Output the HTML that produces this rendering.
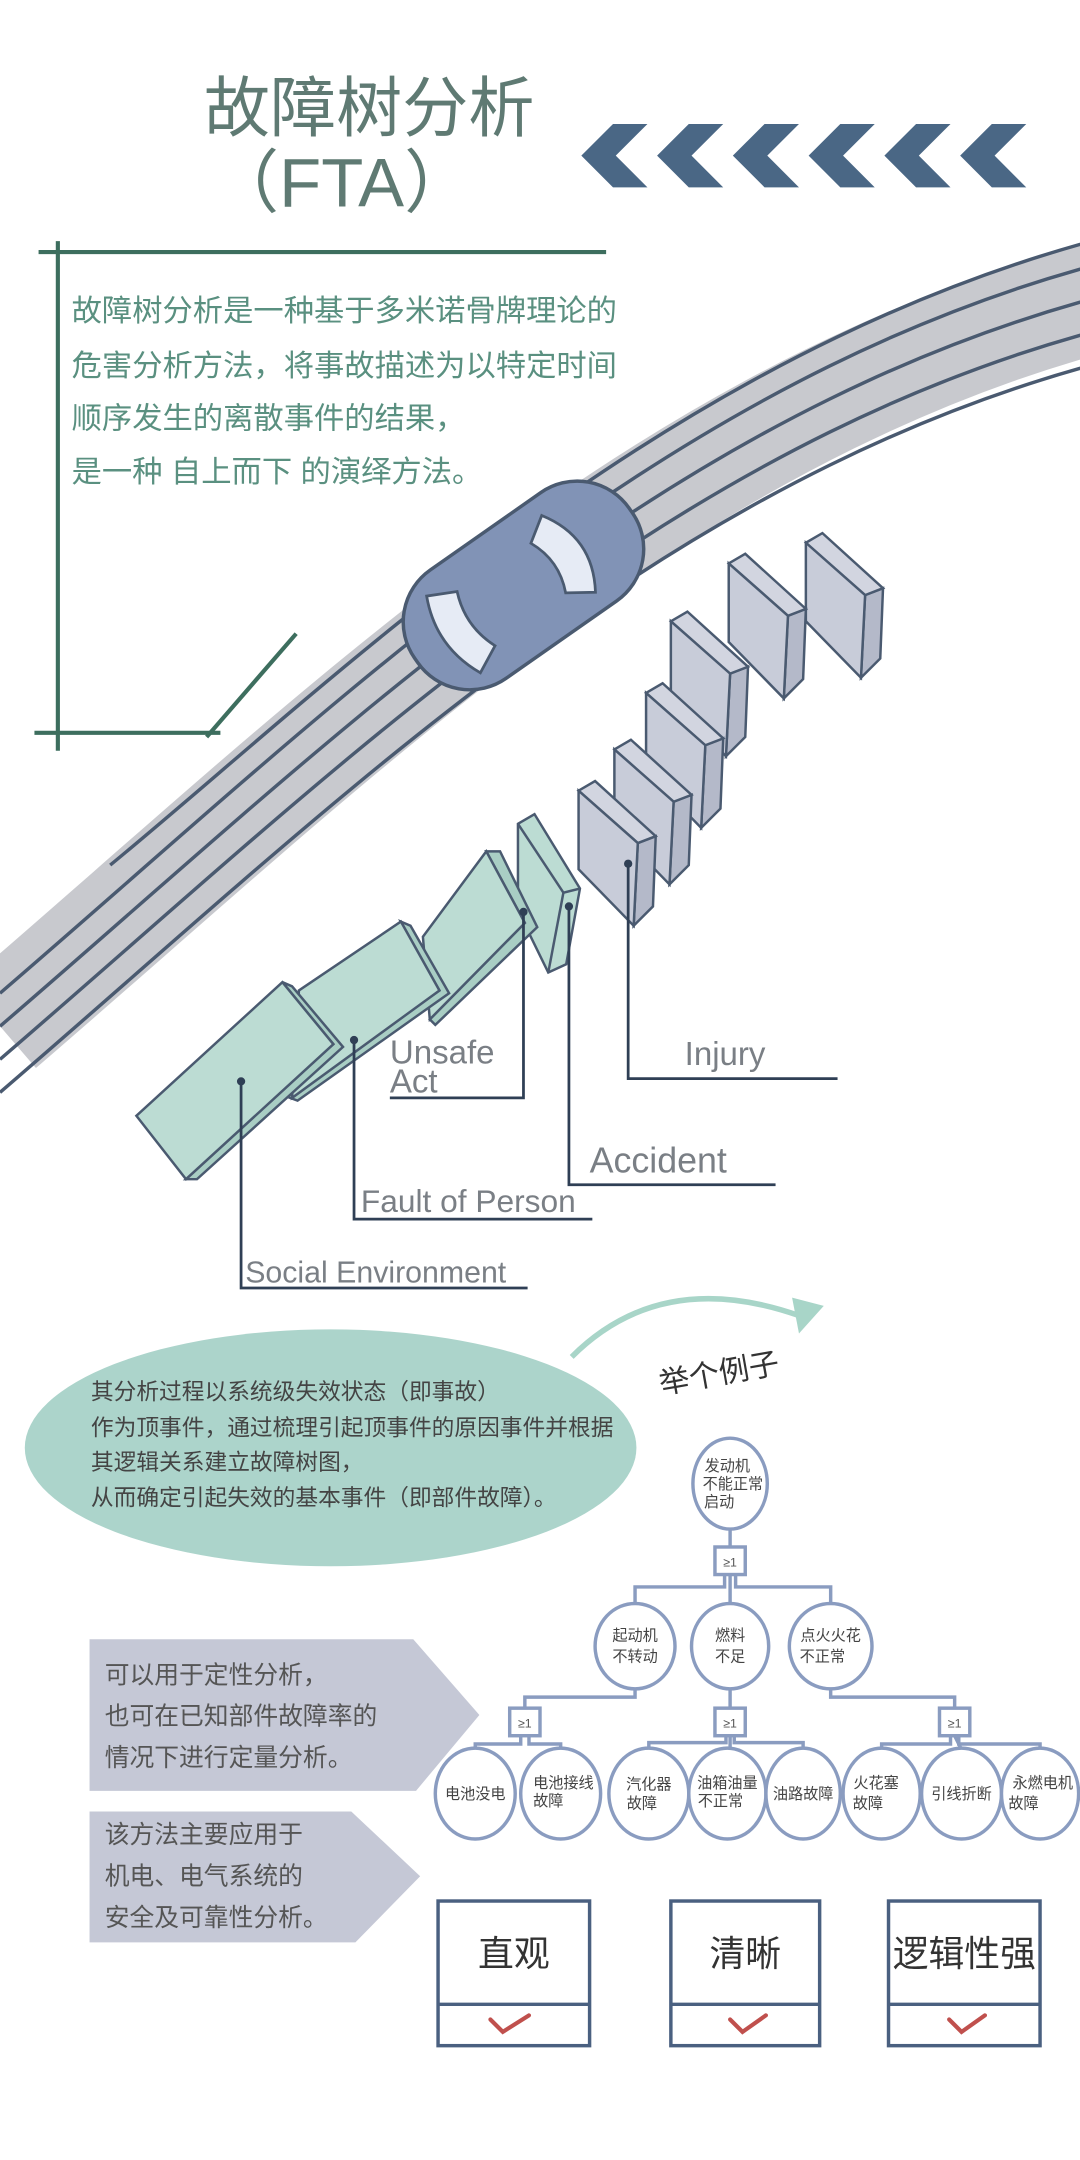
<!DOCTYPE html>
<html><head><meta charset="utf-8"><style>
html,body{margin:0;padding:0;background:#fff;}
svg{display:block;}
text{font-family:"Liberation Sans","Noto Sans CJK SC",sans-serif;}
</style></head><body>
<svg width="1080" height="2160" viewBox="0 0 784 1568" xmlns="http://www.w3.org/2000/svg">
<rect width="784" height="1568" fill="#fff"/>
<!-- title -->
<text x="268" y="95" font-size="48" fill="#5f7a73" text-anchor="middle">故障树分析</text>
<text x="248" y="150" font-size="50" fill="#5f7a73" text-anchor="middle">（FTA）</text>
<!-- chevrons -->
<g fill="#4a6785">
<polygon points="445,90 470,90 447,113 470,136 445,136 422,113"/>
<polygon points="500,90 525,90 502,113 525,136 500,136 477,113"/>
<polygon points="555,90 580,90 557,113 580,136 555,136 532,113"/>
<polygon points="610,90 635,90 612,113 635,136 610,136 587,113"/>
<polygon points="665,90 690,90 667,113 690,136 665,136 642,113"/>
<polygon points="720,90 745,90 722,113 745,136 720,136 697,113"/>
</g>
<!-- road -->
<g fill="none">
<path d="M0,745 C250,530 480,300 800,215" stroke="#c8c9ce" stroke-width="80"/>
<path d="M80,620 C250,480 480,250 800,165" stroke="#4a5a70" stroke-width="2.5" transform="translate(0,8)"/>
<path d="M0,745 C250,530 480,300 800,215" stroke="#4a5a70" stroke-width="2.5" transform="translate(0,-24)"/>
<path d="M0,745 C250,530 480,300 800,215" stroke="#4a5a70" stroke-width="2.5"/>
<path d="M0,745 C250,530 480,300 800,215" stroke="#4a5a70" stroke-width="2.5" transform="translate(0,24)"/>
<path d="M0,745 C250,530 480,300 800,215" stroke="#4a5a70" stroke-width="2.5" transform="translate(0,48)"/>
</g>
<!-- green frame -->
<g stroke="#3d6e5e" stroke-width="3" fill="none">
<line x1="28" y1="183" x2="440" y2="183"/>
<line x1="42" y1="175" x2="42" y2="545"/>
<line x1="25" y1="532" x2="160" y2="532"/>
<line x1="150" y1="535" x2="215" y2="460"/>
</g>
<g font-size="22" fill="#5a9080">
<text x="52" y="233">故障树分析是一种基于多米诺骨牌理论的</text>
<text x="52" y="273">危害分析方法，将事故描述为以特定时间</text>
<text x="52" y="311">顺序发生的离散事件的结果，</text>
<text x="52" y="350">是一种 自上而下 的演绎方法。</text>
</g>
<!-- car -->
<g transform="translate(380,425) rotate(-35)">
<rect x="-95" y="-48" width="190" height="96" rx="46" fill="#8193b6" stroke="#4a5a70" stroke-width="2.5"/>
<path d="M-62,-34 Q-78,0 -62,34 L-42,24 Q-52,0 -42,-24Z" fill="#e6ebf5" stroke="#4a5a70" stroke-width="2"/>
<path d="M40,-34 Q62,0 40,34 L22,22 Q32,0 22,-22Z" fill="#e6ebf5" stroke="#4a5a70" stroke-width="2"/>
</g>
<!-- grey dominoes -->
<defs>
<g id="gd" stroke="#4a5a70" stroke-width="1.8">
<polygon points="463,612 476,607 474,658 460,672" fill="#b4b9c9"/>
<polygon points="420,574 432,567 476,607 463,612" fill="#d2d5e0"/>
<polygon points="420,574 463,612 460,672 420,631" fill="#c8ccd9"/>
</g>
</defs>
<use href="#gd" transform="translate(165,-180)"/>
<use href="#gd" transform="translate(109,-165)"/>
<use href="#gd" transform="translate(67,-123)"/>
<use href="#gd" transform="translate(49,-71)"/>
<use href="#gd" transform="translate(26,-30)"/>
<use href="#gd"/>
<!-- green dominoes -->
<g stroke="#4a5a70" stroke-width="1.8" fill="#bcdcd3">
<polygon points="376,598 388,591 421,645 411,700 398,706 376,661"/>
<polyline points="376,598 409,648 421,645" fill="none"/>
<line x1="409" y1="648" x2="398" y2="706"/>
<polygon points="353,618 363,618 390,673 316,744 312,740 381,670" fill="#a9cec4"/>
<polygon points="307,680 353,618 381,670 312,740"/>
<polygon points="291,669 298,672 326,721 216,799 208,796 319,719" fill="#a9cec4"/>
<polygon points="217,719 291,669 319,719 212,797"/>
<polygon points="205,713 212,716 249,760 143,856 135,856 242,758" fill="#a9cec4"/>
<polygon points="99,810 205,713 242,758 135,856"/>
</g>
<!-- leader lines -->
<g stroke="#2f3f55" stroke-width="2" fill="none">
<polyline points="175,785 175,935 383,935"/>
<polyline points="257,755 257,885 430,885"/>
<polyline points="380,662 380,797 283,797"/>
<polyline points="413,658 413,860 563,860"/>
<polyline points="456,627 456,783 608,783"/>
</g>
<g fill="#2f3f55"><circle cx="175" cy="785" r="3"/><circle cx="257" cy="755" r="3"/><circle cx="380" cy="662" r="3"/><circle cx="413" cy="658" r="3"/><circle cx="456" cy="627" r="3"/></g>
<g font-size="24" fill="#7a7f85">
<text x="283" y="772">Unsafe</text><text x="283" y="793">Act</text>
<text x="497" y="773">Injury</text>
<text x="428" y="851" font-size="26">Accident</text>
<text x="262" y="880" font-size="23">Fault of Person</text>
<text x="178" y="931" font-size="22">Social Environment</text>
</g>
<!-- arc arrow -->
<path d="M415,985 Q480,920 580,955" stroke="#a8d5c8" stroke-width="4" fill="none"/>
<polygon points="575,942 598,948 580,968" fill="#a8d5c8"/>
<text x="480" y="1012" font-size="22" fill="#333" transform="rotate(-10 480 1012)">举个例子</text>
<!-- bubble -->
<ellipse cx="240" cy="1051" rx="222" ry="86" fill="#acd4cb"/>
<g font-size="16.5" fill="#444">
<text x="66" y="1016">其分析过程以系统级失效状态（即事故）</text>
<text x="66" y="1042">作为顶事件，通过梳理引起顶事件的原因事件并根据</text>
<text x="66" y="1067">其逻辑关系建立故障树图，</text>
<text x="66" y="1093">从而确定引起失效的基本事件（即部件故障）。</text>
</g>
<!-- pentagons -->
<polygon points="65,1190 300,1190 348,1245 302,1300 65,1300" fill="#c5c8d6"/>
<polygon points="65,1315 255,1315 305,1362 258,1410 65,1410" fill="#c5c8d6"/>
<g font-size="18" fill="#555">
<text x="76" y="1222">可以用于定性分析，</text>
<text x="76" y="1252">也可在已知部件故障率的</text>
<text x="76" y="1282">情况下进行定量分析。</text>
<text x="76" y="1338">该方法主要应用于</text>
<text x="76" y="1368">机电、电气系统的</text>
<text x="76" y="1398">安全及可靠性分析。</text>
</g>
<!-- tree connectors -->
<g stroke="#8a9cc0" stroke-width="2.5" fill="none">
<line x1="530" y1="1110" x2="530" y2="1123"/>
<polyline points="526,1143 526,1152 461,1152 461,1165"/>
<line x1="530" y1="1143" x2="530" y2="1165"/>
<polyline points="534,1143 534,1152 603,1152 603,1165"/>
<polyline points="461,1225 461,1232 381,1232 381,1240"/>
<line x1="530" y1="1225" x2="530" y2="1240"/>
<polyline points="603,1225 603,1232 693,1232 693,1240"/>
<polyline points="378,1260 378,1266 345,1266 345,1270"/>
<polyline points="384,1260 384,1266 407,1266 407,1270"/>
<polyline points="527,1260 527,1265 471,1265 471,1270"/>
<line x1="530" y1="1260" x2="530" y2="1270"/>
<polyline points="533,1260 533,1265 583,1265 583,1270"/>
<polyline points="690,1260 690,1266 640,1266 640,1270"/>
<line x1="693" y1="1260" x2="698" y2="1270"/>
<polyline points="696,1260 696,1266 755,1266 755,1270"/>
</g>
<g stroke="#8a9cc0" stroke-width="2.5" fill="#fff">
<ellipse cx="530" cy="1077" rx="27" ry="33"/>
<ellipse cx="461" cy="1195" rx="29" ry="31"/>
<ellipse cx="530" cy="1195" rx="28" ry="31"/>
<ellipse cx="603" cy="1195" rx="30" ry="31"/>
<ellipse cx="345" cy="1302" rx="29" ry="33"/>
<ellipse cx="407" cy="1302" rx="29" ry="33"/>
<ellipse cx="471" cy="1302" rx="29" ry="33"/>
<ellipse cx="528" cy="1302" rx="28" ry="33"/>
<ellipse cx="583" cy="1302" rx="27" ry="33"/>
<ellipse cx="640" cy="1302" rx="28" ry="33"/>
<ellipse cx="698" cy="1302" rx="29" ry="33"/>
<ellipse cx="755" cy="1302" rx="28" ry="33"/>
<rect x="519" y="1123" width="22" height="20"/>
<rect x="370" y="1240" width="22" height="20"/>
<rect x="519" y="1240" width="22" height="20"/>
<rect x="682" y="1240" width="22" height="20"/>
</g>
<g font-size="9" fill="#555" text-anchor="middle">
<text x="530" y="1137">≥1</text><text x="381" y="1254">≥1</text><text x="530" y="1254">≥1</text><text x="693" y="1254">≥1</text>
</g>
<g font-size="11" fill="#444" text-anchor="middle">
<text x="528" y="1068">发动机</text><text x="532" y="1081">不能正常</text><text x="522" y="1094">启动</text>
<text x="461" y="1191">起动机</text><text x="461" y="1206">不转动</text>
<text x="530" y="1191">燃料</text><text x="530" y="1206">不足</text>
<text x="603" y="1191">点火火花</text><text x="597" y="1206">不正常</text>
<text x="345" y="1306">电池没电</text>
<text x="409" y="1298">电池接线</text><text x="398" y="1311">故障</text>
<text x="471" y="1299">汽化器</text><text x="466" y="1313">故障</text>
<text x="528" y="1298">油箱油量</text><text x="523" y="1311">不正常</text>
<text x="583" y="1306">油路故障</text>
<text x="636" y="1298">火花塞</text><text x="630" y="1313">故障</text>
<text x="698" y="1306">引线折断</text>
<text x="757" y="1298">永燃电机</text><text x="743" y="1313">故障</text>
</g>
<!-- bottom boxes -->
<g stroke="#4a6080" stroke-width="2.5" fill="#fff">
<rect x="318" y="1380" width="110" height="105"/><line x1="318" y1="1455" x2="428" y2="1455"/>
<rect x="487" y="1380" width="108" height="105"/><line x1="487" y1="1455" x2="595" y2="1455"/>
<rect x="645" y="1380" width="110" height="105"/><line x1="645" y1="1455" x2="755" y2="1455"/>
</g>
<g font-size="26" fill="#333" text-anchor="middle">
<text x="373" y="1427">直观</text><text x="541" y="1427">清晰</text><text x="700" y="1427">逻辑性强</text>
</g>
<g stroke="#c0504d" stroke-width="3" fill="none" stroke-linecap="round">
<polyline points="356,1466 365,1475 384,1463"/>
<polyline points="530,1466 539,1475 556,1463"/>
<polyline points="689,1466 698,1475 715,1463"/>
</g>
</svg>
</body></html>
